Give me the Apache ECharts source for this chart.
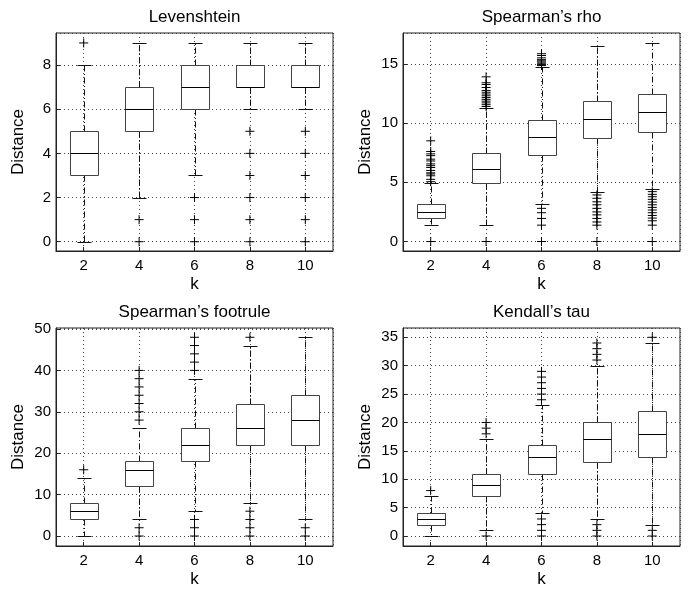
<!DOCTYPE html>
<html><head><meta charset="utf-8">
<script src="https://cdn.jsdelivr.net/npm/echarts@6/dist/echarts.min.js"></script>
<style>html,body{margin:0;padding:0;background:#fff}#c{width:692px;height:591px}</style>
</head><body><div id="c"></div>
<script>
const kValues = [2, 4, 6, 8, 10];
const titles = ['Levenshtein', 'Spearman’s rho', 'Spearman’s footrule', 'Kendall’s tau'];

// per k: [lower whisker, q1, median, q3, upper whisker]
const levBoxes = [[0, 3, 4, 5, 8], [2, 5, 6, 7, 9], [3, 6, 7, 8, 9], [6, 7, 7, 8, 9], [6, 7, 7, 8, 9]];
const levOutliers = [[9], [1, 0], [2, 1, 0], [5, 4, 3, 2, 1, 0], [5, 4, 3, 2, 1, 0]];

const rhoBoxes = [[1.38, 1.98, 2.46, 3.14, 4.93], [1.38, 4.92, 6.13, 7.46, 11.3], [3.16, 7.32, 8.81, 10.28, 14.7], [4.21, 8.7, 10.34, 11.84, 16.47], [4.43, 9.24, 10.93, 12.46, 16.78]];
const rhoOutliers = [
  [8.5, 7.6, 7.4, 7.25, 6.95, 6.8, 6.55, 6.4, 6.25, 6.0, 5.8, 5.7, 5.55, 5.25, 5.05, 0],
  [13.9, 13.4, 13.25, 13.0, 12.75, 12.6, 12.45, 12.3, 12.15, 12.0, 11.85, 11.7, 11.55, 11.4, 0],
  [15.85, 15.7, 15.5, 15.35, 15.25, 15.15, 15.05, 14.95, 14.85, 2.8, 2.43, 1.95, 1.38, 0],
  [3.93, 3.65, 3.35, 3.1, 2.8, 2.5, 2.25, 1.95, 1.65, 1.38, 0],
  [4.21, 3.98, 3.78, 3.56, 3.33, 3.1, 2.88, 2.66, 2.43, 2.2, 1.98, 1.75, 1.38, 0]
];

const footBoxes = [[0, 4, 6, 8, 14], [4, 12, 16, 18, 26], [6, 18, 22, 26, 38], [8, 22, 26, 32, 46], [4, 22, 28, 34, 48]];
const footOutliers = [[16], [28, 30, 32, 34, 36, 38, 40, 2, 0], [40, 42, 44, 46, 48, 4, 2, 0], [48, 6, 4, 2, 0], [2, 0]];

const tauBoxes = [[0, 2, 3, 4, 7], [1, 7, 9, 11, 17], [4, 11, 14, 16, 23], [3, 13, 17, 20, 30], [2, 14, 18, 22, 34]];
const tauOutliers = [[8], [18, 19, 20, 0], [24, 25, 26, 27, 28, 29, 3, 2, 1, 0], [31, 32, 33, 34, 2, 1, 0], [35, 1, 0]];

const allBoxes = [levBoxes, rhoBoxes, footBoxes, tauBoxes];
const allOutliers = [levOutliers, rhoOutliers, footOutliers, tauOutliers];
const yMins = [-0.42, -0.8, -2.41, -1.76];
const yMaxs = [9.45, 17.6, 50.24, 36.64];
const ySplits = [5, 4, 5, 8];

const FONT = 'Liberation Sans, Arial, Helvetica, sans-serif';
const grids = [
  {left: 56, top: 33, width: 277, height: 218},
  {left: 403, top: 33, width: 277, height: 218},
  {left: 56, top: 328, width: 277, height: 218},
  {left: 403, top: 328, width: 277, height: 218}
];
const plus = 'path://M0 5 L10 5 M5 0 L5 10';

function renderBox(params, api) {
  const k = api.value(0);
  const lo = api.coord([k, api.value(1)]);
  const q1 = api.coord([k, api.value(2)]);
  const md = api.coord([k, api.value(3)]);
  const q3 = api.coord([k, api.value(4)]);
  const hi = api.coord([k, api.value(5)]);
  const x = Math.round(lo[0]) + 0.5;
  const hb = Math.round(api.size([1, 0])[0] / 2);
  const hc = Math.round(api.size([0.5, 0])[0] / 2);
  const r = v => Math.round(v) + 0.5;
  const dash = {stroke: '#111', lineWidth: 1, lineDash: [6, 2.5, 1, 2.5], fill: null};
  const solid = {stroke: '#111', lineWidth: 1, fill: null};
  return {
    type: 'group',
    children: [
      {type: 'line', shape: {x1: x, y1: r(q3[1]), x2: x, y2: r(hi[1])}, style: dash},
      {type: 'line', shape: {x1: x, y1: r(q1[1]), x2: x, y2: r(lo[1])}, style: dash},
      {type: 'line', shape: {x1: x - hc, y1: r(hi[1]), x2: x + hc, y2: r(hi[1])}, style: solid},
      {type: 'line', shape: {x1: x - hc, y1: r(lo[1]), x2: x + hc, y2: r(lo[1])}, style: solid},
      {type: 'rect', shape: {x: x - hb, y: r(q3[1]), width: 2 * hb, height: r(q1[1]) - r(q3[1])}, style: {fill: '#fff', stroke: '#444', lineWidth: 1}},
      {type: 'line', shape: {x1: x - hb, y1: r(md[1]), x2: x + hb, y2: r(md[1])}, style: {stroke: '#000', lineWidth: 1}}
    ]
  };
}

const xAxes = [], yAxes = [], series = [], graphics = [];
grids.forEach((g, i) => {
  xAxes.push({
    type: 'value', gridIndex: i, min: 1, max: 11, splitNumber: 5,
    name: 'k', nameLocation: 'middle', nameGap: 25,
    nameTextStyle: {fontFamily: FONT, fontSize: 17, color: '#000'},
    axisLine: {show: true, onZero: false, lineStyle: {color: '#222', width: 1}},
    axisTick: {show: true, inside: true, length: 4, lineStyle: {color: '#222'}},
    axisLabel: {fontFamily: FONT, fontSize: 15, color: '#000', margin: 7, showMinLabel: false, showMaxLabel: false},
    splitLine: {show: true, lineStyle: {color: '#444', type: [1, 3], width: 1}}
  });
  yAxes.push({
    type: 'value', gridIndex: i, min: yMins[i], max: yMaxs[i], splitNumber: ySplits[i],
    name: 'Distance', nameLocation: 'middle', nameGap: 29,
    nameTextStyle: {fontFamily: FONT, fontSize: 17, color: '#000'},
    axisLine: {show: true, onZero: false, lineStyle: {color: '#222', width: 1}},
    axisTick: {show: true, inside: true, length: 4, lineStyle: {color: '#222'}},
    axisLabel: {fontFamily: FONT, fontSize: 15, color: '#000', margin: 5, showMinLabel: false, showMaxLabel: false},
    splitLine: {show: true, lineStyle: {color: '#444', type: [1, 3], width: 1}}
  });
  series.push({
    type: 'custom', xAxisIndex: i, yAxisIndex: i, silent: true, z: 2,
    data: allBoxes[i].map((b, j) => [kValues[j]].concat(b)),
    encode: {x: 0, y: [1, 2, 3, 4, 5]},
    renderItem: renderBox
  });
  const pts = [];
  allOutliers[i].forEach((arr, j) => arr.forEach(v => pts.push([kValues[j], v])));
  series.push({
    type: 'scatter', xAxisIndex: i, yAxisIndex: i, silent: true, z: 3,
    data: pts, symbol: plus, symbolSize: 9,
    itemStyle: {color: '#000', borderColor: '#000', borderWidth: 1, opacity: 1}
  });
  graphics.push({
    type: 'text', x: g.left + g.width / 2, y: g.top - 16,
    style: {text: titles[i], font: '17px ' + FONT, fill: '#000', textAlign: 'center', textVerticalAlign: 'middle'}
  });
});

const chart = echarts.init(document.getElementById('c'), null, {renderer: 'canvas'});
chart.setOption({
  animation: false,
  backgroundColor: '#fff',
  grid: grids.map(g => Object.assign({show: true, borderColor: '#222', borderWidth: 1, backgroundColor: '#fff', containLabel: false}, g)),
  xAxis: xAxes,
  yAxis: yAxes,
  series: series,
  graphic: graphics
});
</script></body></html>
